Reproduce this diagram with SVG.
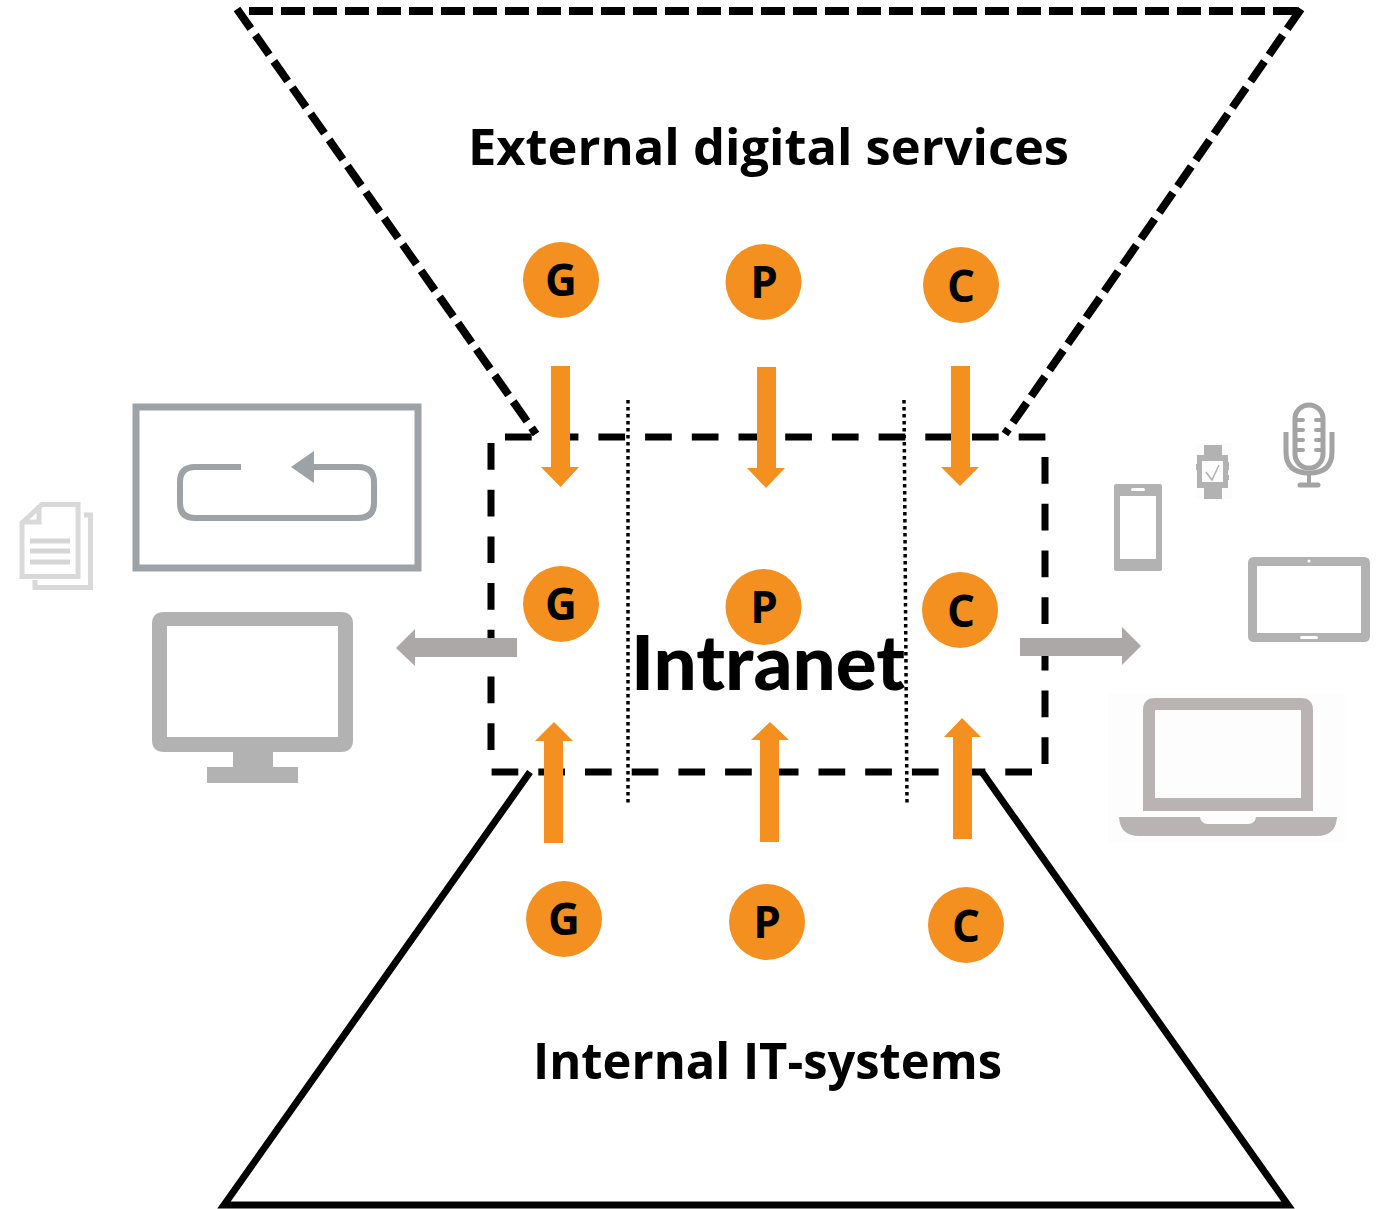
<svg xmlns="http://www.w3.org/2000/svg" width="1381" height="1209" viewBox="0 0 1381 1209">
<style>
.b{fill:#f39020}
.l{font-family:"Open Sans","Noto Sans",sans-serif;font-weight:700;font-size:44px;fill:#000;text-anchor:middle}
.t{font-family:"Open Sans","Noto Sans",sans-serif;font-weight:700;font-size:50px;fill:#000}
.o{fill:#f39020}
.g{fill:#b2b2b2}
.a{fill:#aca8a7}
.d1{fill:none;stroke:#000;stroke-width:8;stroke-dasharray:24 8}
.d2{fill:none;stroke:#000;stroke-width:7;stroke-dasharray:26.700 20}
.d3{fill:none;stroke:#000;stroke-width:3.500;stroke-dasharray:3.500 3.500}
</style>
<rect width="1381" height="1209" fill="#fff"/>
<g id="connectors">
<path class="d1" d="M249 11H1303"/>
<path class="d1" d="M237 9L536 434"/>
<path class="d1" d="M1301 9L1005 434"/>
<path d="M530 772L224 1205H1288L982 772" fill="none" stroke="#000" stroke-width="7"/>
<path class="d2" d="M505 437H1047"/>
<path class="d2" d="M1045 764V440"/>
<path class="d2" d="M491.600 772H1040"/>
<path class="d2" d="M491 443V765"/>
<path class="d3" d="M628 400V803"/>
<path class="d3" d="M904 400L907 803"/>
<path class="o" d="M551 366H570V467H579L560.500 487L541 467H551Z"/>
<path class="o" d="M757 367H776V468H785L766 488L747 468H757Z"/>
<path class="o" d="M951 366H970V467H979L960 486L941 467H951Z"/>
<path class="o" d="M544 843H563V741H573L554 722L535 741H544Z"/>
<path class="o" d="M760 842H779V740H789L770 722L751 740H760Z"/>
<path class="o" d="M953 839H972V737H981L962 718L944 737H953Z"/>
<path class="a" d="M517 638V657H415V666L396 648L415 629V638Z"/>
<path class="a" d="M1020 638V656H1122V665L1141 646L1122 627V638Z"/>
</g>
<g id="title-external"><text class="t" x="468" y="165" textLength="601" lengthAdjust="spacingAndGlyphs">External digital services</text></g>
<g id="title-internal"><text class="t" x="533" y="1079" textLength="469" lengthAdjust="spacingAndGlyphs">Internal IT-systems</text></g>
<g id="g-top"><circle class="b" cx="561" cy="280" r="38"/><text class="l" x="561" y="296">G</text></g>
<g id="p-top"><circle class="b" cx="763.500" cy="282" r="38"/><text class="l" x="764" y="298">P</text></g>
<g id="c-top"><circle class="b" cx="961" cy="285" r="38"/><text class="l" x="961" y="302">C</text></g>
<g id="g-mid"><circle class="b" cx="561" cy="604" r="38"/><text class="l" x="561" y="620">G</text></g>
<g id="p-mid"><circle class="b" cx="763.500" cy="607" r="38"/><text class="l" x="764" y="623">P</text></g>
<g id="c-mid"><circle class="b" cx="960" cy="610" r="38"/><text class="l" x="961" y="627">C</text></g>
<g id="g-bot"><circle class="b" cx="564" cy="919" r="38"/><text class="l" x="564" y="935">G</text></g>
<g id="p-bot"><circle class="b" cx="767" cy="922" r="38"/><text class="l" x="767" y="938">P</text></g>
<g id="c-bot"><circle class="b" cx="966" cy="925" r="38"/><text class="l" x="966" y="942">C</text></g>
<g id="intranet"><text x="631" y="690" font-family="Lato,'Open Sans',sans-serif" font-weight="900" font-size="76" fill="#000" textLength="274" lengthAdjust="spacingAndGlyphs">Intranet</text></g>
<g id="document">
<path d="M84 515H90.500V587.500H35V580" fill="none" stroke="#d9d9d9" stroke-width="5"/>
<path d="M22 523L42 504.500H78V576.500H22Z" fill="#fff" stroke="#d9d9d9" stroke-width="5"/>
<path d="M39 505V522H22" fill="none" stroke="#d9d9d9" stroke-width="5"/>
<path d="M30 541H70M30 551H70M30 562H70" stroke="#d6d6d6" stroke-width="5"/>
</g>
<g id="process">
<rect x="136" y="407" width="282" height="161" fill="#fff" stroke="#9da2a7" stroke-width="7"/>
<path d="M241 467H195Q180 467 180 482V503Q180 518 195 518H358Q374 518 374 503V482Q374 467 358 467H310" fill="none" stroke="#9da2a7" stroke-width="6"/>
<path d="M291 467L314 451V483Z" fill="#9da2a7"/>
</g>
<g id="monitor">
<path class="g" fill-rule="evenodd" d="M164 612H341Q353 612 353 624V740Q353 752 341 752H273V767H298V783H207V767H233V752H164Q152 752 152 740V624Q152 612 164 612ZM167 626V737H338V626Z"/>
</g>
<g id="phone">
<path class="g" fill-rule="evenodd" d="M1116 484H1160Q1162 484 1162 486V569Q1162 571 1160 571H1116Q1114 571 1114 569V486Q1114 484 1116 484ZM1120 496V559H1156V496ZM1132 488Q1130 490 1132 491H1144Q1146 490 1144 488Z"/>
</g>
<g id="watch">
<rect x="1196" y="443" width="36" height="56" fill="#fcfcfc"/>
<path class="g" fill-rule="evenodd" d="M1204 445H1222V455H1228V462H1229V470H1228V475H1229V480H1228V488H1222V499H1204V488H1197V470H1196V464H1197V455H1204ZM1202 461V482H1223V461Z"/>
<path d="M1206 472L1212 480L1219 465" fill="none" stroke="#b2b2b2" stroke-width="1.500"/>
</g>
<g id="microphone">
<rect x="1295" y="405" width="28" height="63" rx="14" fill="none" stroke="#a3a3a3" stroke-width="5"/>
<path d="M1296 420H1303M1296 430H1303M1296 440H1303M1296 450H1303M1316 420H1323M1316 430H1323M1316 440H1323M1316 450H1323" stroke="#a3a3a3" stroke-width="4" stroke-linecap="round"/>
<path d="M1286 432V452Q1286 473 1309 473Q1332 473 1332 452V432" fill="none" stroke="#a3a3a3" stroke-width="5"/>
<path d="M1309 473V485" stroke="#a3a3a3" stroke-width="4"/>
<path d="M1300 485H1318" stroke="#a3a3a3" stroke-width="5" stroke-linecap="round"/>
</g>
<g id="tablet">
<path class="g" fill-rule="evenodd" d="M1254 557H1364Q1370 557 1370 563V636Q1370 642 1364 642H1254Q1248 642 1248 636V563Q1248 557 1254 557ZM1257 566V633H1361V566Z"/>
<circle cx="1309" cy="561" r="1.500" fill="#fff"/>
<rect x="1300" y="636" width="18" height="3" rx="1.500" fill="#fff"/>
</g>
<g id="laptop">
<rect x="1108" y="693" width="237" height="150" fill="#fdfdfd"/>
<path fill="#b9b4b3" fill-rule="evenodd" d="M1155 698H1301Q1313 698 1313 710V811H1143V710Q1143 698 1155 698ZM1155 710V798H1301V710Z"/>
<path fill="#b9b4b3" d="M1119 817H1200Q1201 824 1208 824H1248Q1255 824 1256 817H1337Q1336 836 1317 836H1139Q1120 836 1119 817Z"/>
</g>
</svg>
